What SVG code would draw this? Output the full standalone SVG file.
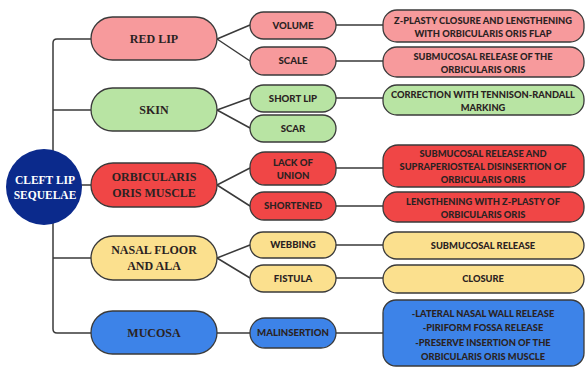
<svg xmlns="http://www.w3.org/2000/svg" width="586" height="368" viewBox="0 0 586 368">
<style>
.n{stroke:#3a3a3a;stroke-width:1.3}
.red{fill:#f79a9c}.grn{fill:#b8e4a3}.rd{fill:#f04646}.yel{fill:#fbe08e}.blu{fill:#3d83e8}
.t1{font-family:"Liberation Serif",serif;font-weight:bold;font-size:12px;fill:#2a2222;text-anchor:middle}
.t2{font-family:"Lato","Liberation Sans",sans-serif;font-weight:900;font-size:9.6px;fill:#2a2222;text-anchor:middle}
.t3{font-family:"Lato","Liberation Sans",sans-serif;font-weight:900;font-size:9.3px;fill:#2a2222;text-anchor:middle}
.c{fill:none;stroke:#3a3a3a;stroke-width:1.5}
</style>
<rect width="586" height="368" fill="#ffffff"/>
<g id="connectors">
<path class="c" d="M91 39 H57 Q53 39 53 43 V329 Q53 333 57 333 H91"/>
<path class="c" d="M53 110 H91 M53 258 H91 M80 185 H91"/>
<path class="c" d="M217 39 L250 25 M217 39 L250 61"/>
<path class="c" d="M217 110 L250 98 M217 110 L250 128"/>
<path class="c" d="M217 185 L250 168 M217 185 L250 206"/>
<path class="c" d="M217 258 L250 245 M217 258 L250 278"/>
<path class="c" d="M217 333 H250"/>
<path class="c" d="M336 25 H383 M336 61 H383 M336 98 H383 M336 168 H383 M336 206 H383 M336 245 H383 M336 278 H383 M336 333 H383"/>
</g>
<g id="root">
<circle cx="44" cy="187" r="38" fill="#0b2a8c"/>
<text class="t1" x="45" y="184" style="fill:#fff;font-size:11.5px">CLEFT LIP</text>
<text class="t1" x="45" y="199" style="fill:#fff;font-size:11.5px">SEQUELAE</text>
</g>
<g id="red-lip"><rect class="n red" x="91" y="17" width="126" height="43" rx="21.5"/><text class="t1" x="154" y="43">RED LIP</text></g>
<g id="skin"><rect class="n grn" x="91" y="88" width="126" height="43" rx="21.5"/><text class="t1" x="154" y="114">SKIN</text></g>
<g id="orbicularis"><rect class="n rd" x="91" y="163" width="126" height="44" rx="22"/><text class="t1" x="154" y="181">ORBICULARIS</text><text class="t1" x="154" y="197">ORIS MUSCLE</text></g>
<g id="nasal"><rect class="n yel" x="91" y="236" width="126" height="44" rx="22"/><text class="t1" x="154" y="254">NASAL FLOOR</text><text class="t1" x="154" y="270">AND ALA</text></g>
<g id="mucosa"><rect class="n blu" x="91" y="311" width="126" height="43" rx="21.5"/><text class="t1" x="154" y="337">MUCOSA</text></g>

<g id="volume"><rect class="n red" x="250" y="12" width="86" height="27" rx="13.5"/><text class="t2" x="293" y="28.8">VOLUME</text></g>
<g id="scale"><rect class="n red" x="250" y="47" width="86" height="28" rx="14"/><text class="t2" x="293" y="64.3">SCALE</text></g>
<g id="short-lip"><rect class="n grn" x="250" y="85" width="86" height="27" rx="13.5"/><text class="t2" x="293" y="101.8">SHORT LIP</text></g>
<g id="scar"><rect class="n grn" x="250" y="115" width="86" height="27" rx="13.5"/><text class="t2" x="293" y="131.8">SCAR</text></g>
<g id="lack"><rect class="n rd" x="250" y="152" width="86" height="33" rx="15"/><text class="t2" x="293" y="166">LACK OF</text><text class="t2" x="293" y="178.5">UNION</text></g>
<g id="shortened"><rect class="n rd" x="250" y="192" width="86" height="28" rx="14"/><text class="t2" x="293" y="209.3">SHORTENED</text></g>
<g id="webbing"><rect class="n yel" x="250" y="232" width="86" height="26" rx="13"/><text class="t2" x="293" y="248.3">WEBBING</text></g>
<g id="fistula"><rect class="n yel" x="250" y="265" width="86" height="27" rx="13.5"/><text class="t2" x="293" y="281.8">FISTULA</text></g>
<g id="malinsertion"><rect class="n blu" x="250" y="318" width="86" height="30" rx="15"/><text class="t2" x="293" y="336.3">MALINSERTION</text></g>

<g id="r-volume"><rect class="n red" x="383" y="10" width="201" height="32" rx="14"/><text class="t3" x="483" y="23.5">Z-PLASTY CLOSURE AND LENGTHENING</text><text class="t3" x="483" y="36.5">WITH ORBICULARIS ORIS FLAP</text></g>
<g id="r-scale"><rect class="n red" x="383" y="47" width="201" height="30" rx="14"/><text class="t3" x="483" y="59.5">SUBMUCOSAL RELEASE OF THE</text><text class="t3" x="483" y="72.5">ORBICULARIS ORIS</text></g>
<g id="r-short"><rect class="n grn" x="383" y="85" width="201" height="30" rx="14"/><text class="t3" x="483" y="97.5">CORRECTION WITH TENNISON-RANDALL</text><text class="t3" x="483" y="110.5">MARKING</text></g>
<g id="r-lack"><rect class="n rd" x="383" y="145" width="201" height="42" rx="15"/><text class="t3" x="483" y="156.5">SUBMUCOSAL RELEASE AND</text><text class="t3" x="483" y="169.5">SUPRAPERIOSTEAL DISINSERTION OF</text><text class="t3" x="483" y="182.5">ORBICULARIS ORIS</text></g>
<g id="r-shortened"><rect class="n rd" x="383" y="192" width="201" height="30" rx="14"/><text class="t3" x="483" y="204.5">LENGTHENING WITH Z-PLASTY OF</text><text class="t3" x="483" y="217.5">ORBICULARIS ORIS</text></g>
<g id="r-webbing"><rect class="n yel" x="383" y="232" width="201" height="27" rx="13.5"/><text class="t3" x="483" y="248.8">SUBMUCOSAL RELEASE</text></g>
<g id="r-fistula"><rect class="n yel" x="383" y="265" width="201" height="28" rx="14"/><text class="t3" x="483" y="282.3">CLOSURE</text></g>
<g id="r-mal"><rect class="n blu" x="383" y="300" width="201" height="66" rx="13"/><text class="t3" x="483" y="316.5">-LATERAL NASAL WALL RELEASE</text><text class="t3" x="483" y="331">-PIRIFORM FOSSA RELEASE</text><text class="t3" x="483" y="345.5">-PRESERVE INSERTION OF THE</text><text class="t3" x="483" y="360">ORBICULARIS ORIS MUSCLE</text></g>
</svg>
